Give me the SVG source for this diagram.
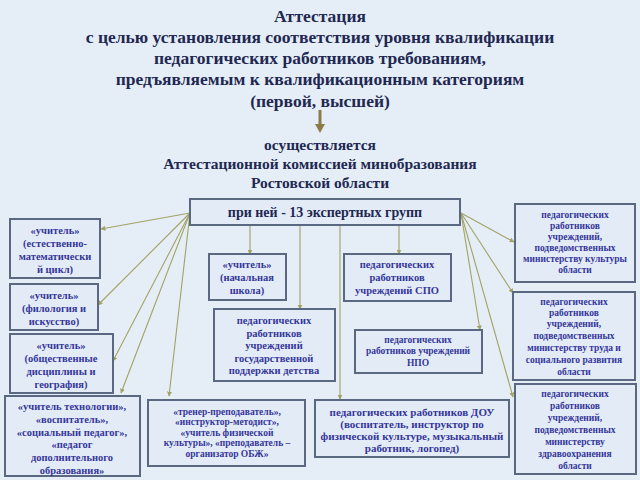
<svg xmlns="http://www.w3.org/2000/svg" width="640" height="480" viewBox="0 0 640 480">
<defs>
<style>
.bg{fill:#e5eef6}
.box{fill:#e3ecf6;stroke:#5b6882;stroke-width:2}
.t{font-family:'Liberation Serif','DejaVu Serif',serif;font-weight:bold;fill:#1f2852;text-anchor:middle}
.b{font-family:'Liberation Serif','DejaVu Serif',serif;font-weight:bold;fill:#35369a;text-anchor:middle}
.c{stroke:#a2a266;stroke-width:1.1;fill:none;marker-end:url(#ah)}
</style>
<marker id="ah" viewBox="0 0 8 8" refX="7" refY="4" markerWidth="5" markerHeight="5" orient="auto" markerUnits="userSpaceOnUse">
<path d="M0,0 L8,4 L0,8 z" fill="#a2a266"/>
</marker>
</defs>
<rect class="bg" x="0" y="0" width="640" height="480"/>

<g id="title" font-family="'Liberation Serif', serif">
<text class="t" font-size="17.5" x="320" y="22">Аттестация</text>
<text class="t" font-size="17.5" x="320" y="43">с целью установления соответствия уровня квалификации</text>
<text class="t" font-size="17.5" x="320" y="64">педагогических работников требованиям,</text>
<text class="t" font-size="17.5" x="320" y="85">предъявляемым к квалификационным категориям</text>
<text class="t" font-size="17.5" x="320" y="107">(первой, высшей)</text>
</g>
<g id="title-arrow">
<line x1="320" y1="110" x2="320" y2="125" stroke="#8c7b45" stroke-width="3"/>
<path d="M315,124 L325,124 L320,133 z" fill="#8c7b45"/>
</g>
<g id="commission">
<text class="t" font-size="15.5" x="320" y="150">осуществляется</text>
<text class="t" font-size="15.5" x="320" y="169">Аттестационной комиссией минобразования</text>
<text class="t" font-size="15.5" x="320" y="188">Ростовской области</text>
</g>

<g id="connectors">
<line class="c" x1="190" y1="213" x2="101" y2="229"/>
<line class="c" x1="190" y1="213" x2="98" y2="305"/>
<line class="c" x1="190" y1="213" x2="113" y2="361"/>
<line class="c" x1="190" y1="213" x2="121" y2="393"/>
<line class="c" x1="190" y1="213" x2="169" y2="396"/>
<line class="c" x1="250" y1="225" x2="250" y2="254"/>
<line class="c" x1="300" y1="225" x2="300" y2="309"/>
<line class="c" x1="340" y1="225" x2="340" y2="399"/>
<line class="c" x1="399" y1="225" x2="399" y2="254"/>
<line class="c" x1="461" y1="213" x2="514" y2="242"/>
<line class="c" x1="461" y1="213" x2="513" y2="293"/>
<line class="c" x1="461" y1="213" x2="480" y2="330"/>
<line class="c" x1="461" y1="213" x2="513" y2="397"/>
</g>

<g id="header">
<rect class="box" x="190" y="199" width="270" height="26"/>
<text class="t" font-size="14" x="325" y="217">при ней - 13 экспертных групп</text>
</g>

<g id="n1">
<rect class="box" x="10" y="219" width="90" height="59"/>
<text class="b" font-size="10.5"><tspan x="55" y="234">«учитель»</tspan><tspan x="55" y="247">(естественно-</tspan><tspan x="55" y="260">математически</tspan><tspan x="55" y="273">й цикл)</tspan></text>
</g>
<g id="n2">
<rect class="box" x="10" y="284" width="88" height="46"/>
<text class="b" font-size="10.5"><tspan x="54" y="299">«учитель»</tspan><tspan x="54" y="312">(филология и</tspan><tspan x="54" y="325">искусство)</tspan></text>
</g>
<g id="n3">
<rect class="box" x="10" y="334" width="103" height="59"/>
<text class="b" font-size="10.5"><tspan x="61" y="349">«учитель»</tspan><tspan x="61" y="362">(общественные</tspan><tspan x="61" y="375">дисциплины и</tspan><tspan x="61" y="388">география)</tspan></text>
</g>
<g id="n4">
<rect class="box" x="5" y="396" width="135" height="80"/>
<text class="b" font-size="10.5"><tspan x="72" y="410">«учитель технологии»,</tspan><tspan x="72" y="423">«воспитатель»,</tspan><tspan x="72" y="436">«социальный педагог»,</tspan><tspan x="72" y="448">«педагог</tspan><tspan x="72" y="461">дополнительного</tspan><tspan x="72" y="474">образования»</tspan></text>
</g>
<g id="n5">
<rect class="box" x="148" y="400" width="157" height="66"/>
<text class="b" font-size="9.5"><tspan x="227" y="415">«тренер-преподаватель»,</tspan><tspan x="227" y="425">«инструктор-методист»,</tspan><tspan x="227" y="436">«учитель физической</tspan><tspan x="227" y="446">культуры», «преподаватель –</tspan><tspan x="227" y="457">организатор ОБЖ»</tspan></text>
</g>
<g id="n6">
<rect class="box" x="209" y="254" width="77" height="46"/>
<text class="b" font-size="10.5"><tspan x="247" y="268">«учитель»</tspan><tspan x="247" y="281">(начальная</tspan><tspan x="247" y="294">школа)</tspan></text>
</g>
<g id="n7">
<rect class="box" x="214" y="309" width="121" height="72"/>
<text class="b" font-size="10.5"><tspan x="274" y="324">педагогических</tspan><tspan x="274" y="337">работников</tspan><tspan x="274" y="349">учреждений</tspan><tspan x="274" y="362">государственной</tspan><tspan x="274" y="374">поддержки детства</tspan></text>
</g>
<g id="n8">
<rect class="box" x="344" y="254" width="107" height="47"/>
<text class="b" font-size="10.5"><tspan x="397" y="268">педагогических</tspan><tspan x="397" y="281">работников</tspan><tspan x="397" y="294">учреждений СПО</tspan></text>
</g>
<g id="n9">
<rect class="box" x="355" y="330" width="127" height="43"/>
<text class="b" font-size="9.5"><tspan x="418" y="343">педагогических</tspan><tspan x="418" y="354">работников учреждений</tspan><tspan x="418" y="366">НПО</tspan></text>
</g>
<g id="n10">
<rect class="box" x="315" y="400" width="194" height="57"/>
<text class="b" font-size="11"><tspan x="412" y="416">педагогических работников ДОУ</tspan><tspan x="412" y="428">(воспитатель, инструктор по</tspan><tspan x="412" y="440">физической культуре, музыкальный</tspan><tspan x="412" y="452">работник, логопед)</tspan></text>
</g>
<g id="n11">
<rect class="box" x="515" y="204" width="120" height="78"/>
<text class="b" font-size="9.5"><tspan x="575" y="218">педагогических</tspan><tspan x="575" y="229">работников</tspan><tspan x="575" y="240">учреждений,</tspan><tspan x="575" y="251">подведомственных</tspan><tspan x="575" y="262">министерству культуры</tspan><tspan x="575" y="273">области</tspan></text>
</g>
<g id="n12">
<rect class="box" x="513" y="292" width="122" height="88"/>
<text class="b" font-size="9.5"><tspan x="574" y="305">педагогических</tspan><tspan x="574" y="316">работников</tspan><tspan x="574" y="327">учреждений,</tspan><tspan x="574" y="339">подведомственных</tspan><tspan x="574" y="351">министерству труда и</tspan><tspan x="574" y="363">социального развития</tspan><tspan x="574" y="375">области</tspan></text>
</g>
<g id="n13">
<rect class="box" x="515" y="384" width="121" height="90"/>
<text class="b" font-size="9.5"><tspan x="575" y="397">педагогических</tspan><tspan x="575" y="409">работников</tspan><tspan x="575" y="421">учреждений,</tspan><tspan x="575" y="433">подведомственных</tspan><tspan x="575" y="445">министерству</tspan><tspan x="575" y="457">здравоохранения</tspan><tspan x="575" y="469">области</tspan></text>
</g>
</svg>
